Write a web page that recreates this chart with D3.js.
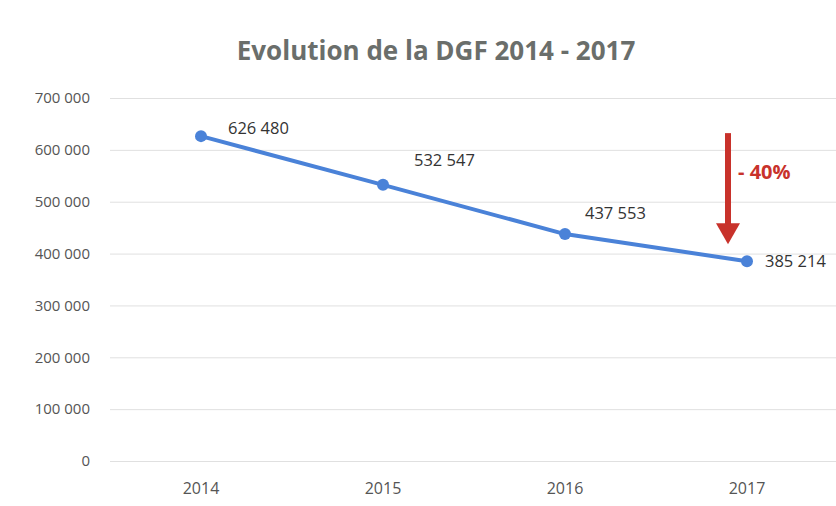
<!DOCTYPE html>
<html>
<head>
<meta charset="utf-8">
<script src="https://cdn.jsdelivr.net/npm/d3@7"></script>
<style>
  body { margin: 0; background: #fff; }
  text { font-family: "Open Sans", "Noto Sans", sans-serif; }
</style>
</head>
<body>
<div id="chart"></div>
<script>
// chart data
var years = ["2014", "2015", "2016", "2017"];
var dgf = [626480, 532547, 437553, 385214];
var yTicks = [0, 100000, 200000, 300000, 400000, 500000, 600000, 700000];
var chartTitle = "Evolution de la DGF 2014 - 2017";
var dropLabel = "- 40%";

var width = 836, height = 506;
var plot = { left: 110, right: 838, top: 98, bottom: 461 };

var fmt = function (v) {
    return d3.format(",")(v).replace(/,/g, " ");
};

var svg = d3.select("#chart")
    .append("svg")
    .attr("width", width)
    .attr("height", height);

var xscale = d3.scaleBand()
    .domain(years)
    .range([plot.left, plot.right]);
var yscale = d3.scaleLinear()
    .domain([0, 700000])
    .range([plot.bottom, plot.top]);

// title
svg.append("text")
    .attr("x", 436)
    .attr("y", 60)
    .attr("text-anchor", "middle")
    .style("font-size", "26px")
    .style("font-weight", "bold")
    .style("fill", "#6a6e6b")
    .text(chartTitle);

// gridlines + y labels
var yAxis = d3.axisLeft(yscale)
    .tickValues(yTicks)
    .tickSize(-(plot.right - plot.left))
    .tickPadding(20)
    .tickFormat(fmt);
var gy = svg.append("g")
    .attr("transform", "translate(" + plot.left + ",0)")
    .call(yAxis);
gy.select(".domain").remove();
gy.selectAll(".tick line").attr("stroke", "#e0e0e0").attr("stroke-width", 1);
gy.selectAll(".tick text")
    .style("font-size", "15px")
    .style("fill", "#555")
    .style("font-family", "\"Open Sans\", sans-serif");

// x labels
var xAxis = d3.axisBottom(xscale).tickSize(0).tickPadding(22);
var gx = svg.append("g")
    .attr("transform", "translate(0," + plot.bottom + ")")
    .call(xAxis);
gx.select(".domain").remove();
gx.selectAll(".tick text")
    .style("font-size", "16px")
    .style("fill", "#555")
    .style("font-family", "\"Open Sans\", sans-serif");

var cx = function (d, i) { return xscale(years[i]) + xscale.bandwidth() / 2; };

// line
var line = d3.line()
    .x(function (d, i) { return cx(d, i); })
    .y(function (d) { return yscale(d); });
svg.append("path")
    .datum(dgf)
    .attr("d", line)
    .attr("fill", "none")
    .attr("stroke", "#4a82d8")
    .attr("stroke-width", 4)
    .attr("stroke-linejoin", "round");

svg.selectAll(".pt")
    .data(dgf)
    .enter()
    .append("circle")
    .attr("class", "pt")
    .attr("cx", cx)
    .attr("cy", function (d) { return yscale(d); })
    .attr("r", 6)
    .attr("fill", "#4a82d8");

// data labels, nudged like the hand-placed excel labels
var labelNudge = [[27, -2], [31, -19], [20, -15], [18, 6]];
svg.selectAll(".lbl")
    .data(dgf)
    .enter()
    .append("text")
    .attr("class", "lbl")
    .attr("x", function (d, i) { return cx(d, i) + labelNudge[i][0]; })
    .attr("y", function (d, i) { return yscale(d) + labelNudge[i][1]; })
    .style("font-size", "16.5px")
    .style("fill", "#333")
    .text(fmt);

// red drop arrow next to 2017
var ax = cx(0, 3) - 19;
var aTop = yscale(dgf[0]) - 3;
var aBot = yscale(dgf[3]) - 17;
svg.append("rect")
    .attr("x", ax - 3)
    .attr("y", aTop)
    .attr("width", 6)
    .attr("height", aBot - aTop - 20)
    .attr("fill", "#c8322b");
svg.append("path")
    .attr("d", "M" + (ax - 12) + "," + (aBot - 21) + "L" + (ax + 12) + "," + (aBot - 21) + "L" + ax + "," + aBot + "Z")
    .attr("fill", "#c8322b");
svg.append("text")
    .attr("x", ax + 10)
    .attr("y", 179)
    .style("font-size", "20px")
    .style("font-weight", "bold")
    .style("fill", "#c8322b")
    .text(dropLabel);
</script>
</body>
</html>
